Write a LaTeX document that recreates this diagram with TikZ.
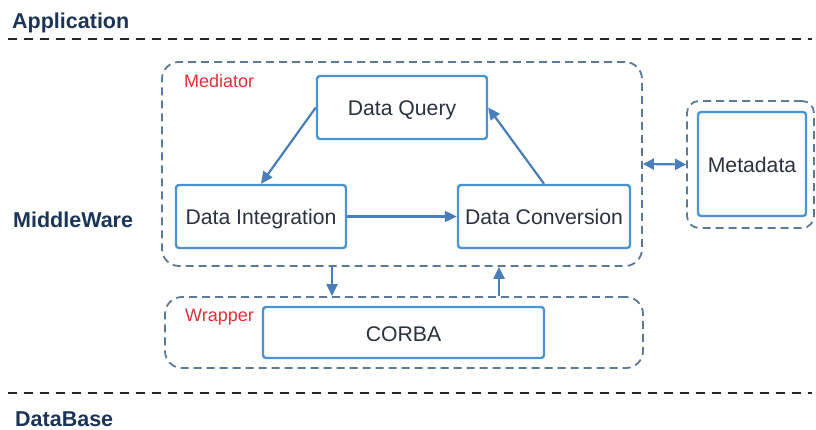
\documentclass[tikz,border=0pt]{standalone}
\usepackage{fontspec}
\setmainfont{Liberation Sans}
\usetikzlibrary{arrows.meta}
\definecolor{boxblue}{HTML}{4A94D4}
\definecolor{arrowblue}{HTML}{4A7EBB}
\definecolor{groupgray}{HTML}{5A7A98}
\definecolor{headnavy}{HTML}{1C3557}
\definecolor{textdark}{HTML}{2A3240}
\definecolor{labelred}{HTML}{E0303A}
\tikzset{
  box/.style={draw=boxblue, line width=2.4pt, rounded corners=3pt, fill=white,
    text=textdark, font=\fontsize{21.2}{24}\selectfont, inner sep=0pt,
    text height=17pt, text depth=0pt},
  group/.style={draw=groupgray, line width=1.8pt, dash pattern=on 8pt off 5pt,
    rounded corners=17pt, inner sep=0pt},
  layerline/.style={draw=black!85, line width=2.3pt, dash pattern=on 9pt off 7pt},
  layername/.style={text=headnavy, font=\fontsize{21.5}{24}\selectfont\bfseries,
    anchor=base west, inner sep=0pt},
  grouplabel/.style={text=labelred, font=\fontsize{18}{20}\selectfont,
    anchor=base west, inner sep=0pt},
  arr/.style={draw=arrowblue, line width=2.2pt, -{Triangle[length=12pt,width=11pt]}},
  dblarr/.style={draw=arrowblue, line width=2.2pt,
    {Triangle[length=11pt,width=11pt]}-{Triangle[length=11pt,width=11pt]}},
}
\begin{document}
\begin{tikzpicture}[x=1pt,y=-1pt]
  \useasboundingbox (0,0) rectangle (816,430);

  % layer separators and layer names
  \coordinate (l1a) at (8,39);  \coordinate (l1b) at (812,39);
  \coordinate (l2a) at (8,393); \coordinate (l2b) at (812,393);
  \draw[layerline] (l1a) -- (l1b);
  \draw[layerline] (l2a) -- (l2b);
  \node[layername] (app) at (12,29) {Application};
  \node[layername] (mid) at (13,228) {MiddleWare};
  \node[layername] (db)  at (15,426) {DataBase};

  % dashed groups
  \node[group, minimum width=480pt, minimum height=204pt] (mediator) at (402,164) {};
  \node[group, minimum width=127pt, minimum height=127pt, rounded corners=12pt] (metagroup) at (750.5,164.5) {};
  \node[group, minimum width=478pt, minimum height=71pt] (wrapper) at (404,332.5) {};
  \node[grouplabel] (medlabel) at (184,88) {Mediator};
  \node[grouplabel] (wraplabel) at (185,321) {Wrapper};

  % component boxes
  \node[box, minimum width=170pt, minimum height=63pt] (dq) at (402,107.5) {Data Query};
  \node[box, minimum width=170pt, minimum height=63pt] (di) at (261,216.5) {Data Integration};
  \node[box, minimum width=172pt, minimum height=63pt] (dc) at (544,216.5) {Data Conversion};
  \node[box, minimum width=108pt, minimum height=104pt] (meta) at (752,164) {Metadata};
  \node[box, minimum width=281pt, minimum height=51pt] (corba) at (403.5,332.5) {CORBA};

  % flows inside the mediator
  \draw[arr] (dq.west) -- (di.north);
  \draw[arr] (di.east) -- (dc.west);
  \draw[arr] (dc.north) -- (dq.east);

  % mediator <-> metadata
  \draw[dblarr] (mediator.east) -- (metagroup.west);

  % mediator <-> wrapper
  \coordinate (down) at (332,0);
  \coordinate (up) at (499,0);
  \draw[arr] (mediator.south -| down) -- (wrapper.north -| down);
  \draw[arr] (wrapper.north -| up) -- (mediator.south -| up);
\end{tikzpicture}
\end{document}
